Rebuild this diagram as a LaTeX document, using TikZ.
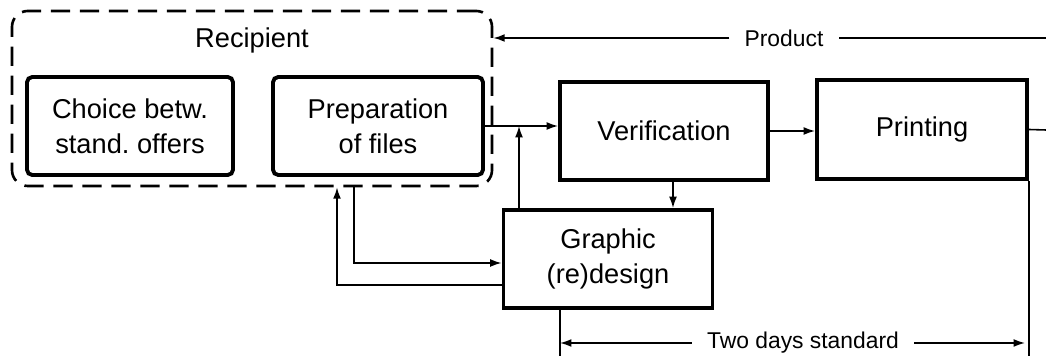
\documentclass[tikz,border=0pt]{standalone}
\usepackage{fontspec}
\setmainfont{Liberation Sans}
\usetikzlibrary{arrows.meta}

\begin{document}
\begin{tikzpicture}[x=0.2mm, y=-0.2mm, >={Latex[length=6.5pt,width=4.5pt]},
    box/.style={draw, line width=2.2pt, align=center, inner sep=0pt, font=\fontsize{15.5}{20}\selectfont},
    rbox/.style={box, rounded corners=3pt},
    group/.style={draw, line width=1.5pt, rounded corners=9pt, dash pattern=on 11pt off 5.5pt},
    flow/.style={line width=0.9pt},
    lbl/.style={inner xsep=3mm, font=\fontsize{13}{16}\selectfont}]
    \useasboundingbox (0,0) rectangle (1046,356);

    % Recipient side
    \node[group, minimum width=96mm, minimum height=35mm] (recipient) at (252,98.5) {};
    \node[font=\fontsize{15.5}{20}\selectfont] (reclabel) at (252,40) {Recipient};
    \node[rbox, minimum width=41.2mm, minimum height=19.6mm] (choice) at (130,126) {Choice betw.\\stand.\ offers};
    \node[rbox, minimum width=42mm, minimum height=19.6mm] (prep) at (378,126) {Preparation\\of files};

    % Printing house
    \node[box, minimum width=41.6mm, minimum height=19.6mm] (verif) at (664,131) {Verification};
    \node[box, minimum width=42mm, minimum height=19.8mm] (print) at (922,129.5) {Printing};
    \node[box, minimum width=41.8mm, minimum height=19.6mm] (graphic) at (608,259) {Graphic\\(re)design};

    % Main flow
    \coordinate (vup) at (519,0);
    \coordinate (vdrop) at (673,0);
    \coordinate (exit) at (1046,130);
    \draw[flow,->] (prep.east) -- (prep.east -| verif.west);
    \draw[flow,->] (verif.east) -- (verif.east -| print.west);
    \draw[flow] (print.east) -- (exit);
    \draw[flow,->] (graphic.north -| vup) -- (prep.east -| vup);
    \draw[flow,->] (verif.south -| vdrop) -- (graphic.north -| vdrop);

    % Feedback to the recipient
    \coordinate (fbout) at (354,263);
    \coordinate (fbin) at (337,285);
    \draw[flow,->] (recipient.south -| fbout) |- (graphic.west |- fbout);
    \draw[flow,->] (graphic.west |- fbin) -| (recipient.south -| fbin);

    % Product back to the recipient
    \coordinate (pstart) at (1046,38);
    \node[lbl] (product) at (784,38) {Product};
    \draw[flow] (pstart) -- (product.east);
    \draw[flow,->] (product.west) -- (product.west -| recipient.east);

    % Time span
    \coordinate (gbot) at (560,356);
    \coordinate (rbot) at (1025,356);
    \draw[flow] (graphic.south -| gbot) -- (gbot);
    \draw[flow] (print.south east) -- (print.south east |- rbot);
    \node[lbl] (twodays) at (803,343) {Two days standard};
    \draw[flow,->] (twodays.west) -- (twodays.west -| gbot);
    \draw[flow,->] (twodays.east) -- (twodays.east -| rbot);
\end{tikzpicture}
\end{document}
